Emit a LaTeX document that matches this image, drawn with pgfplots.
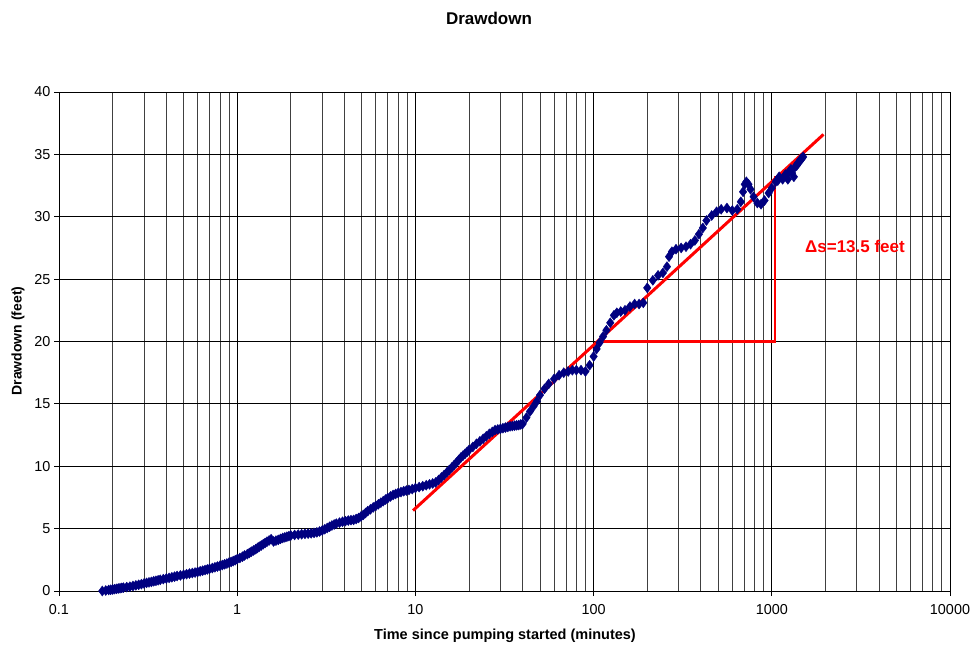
\documentclass[border=0pt]{standalone}
\usepackage{fontspec}
\setmainfont{Liberation Sans}
\usepackage{pgfplots}
\pgfplotsset{compat=1.18}
\definecolor{navyd}{RGB}{0,0,128}
\definecolor{redl}{RGB}{255,0,0}
\begin{document}
\begin{tikzpicture}
\useasboundingbox (0,0) rectangle (975pt,648pt);
\begin{axis}[
  at={(59pt,57pt)}, anchor=south west,
  scale only axis, width=891pt, height=499pt,
  xmode=log, xmin=0.1, xmax=10000, ymin=0, ymax=40,
  xtick={0.1,1,10,100,1000,10000},
  xticklabels={0.1,1,10,100,1000,10000},
  ytick={0,5,...,40},
  /pgf/number format/assume math mode=true,
  tick label style={font=\fontsize{14.4}{16}\selectfont},
  xticklabel style={yshift=-5pt},
  grid=both,
  major grid style={black, line width=0.8pt},
  minor grid style={black!75, line width=0.8pt},
  axis line style={black, line width=0.8pt},
  tick style={black, line width=0.8pt},
  tick align=outside, tick pos=left,
  major tick length=5pt, minor tick length=0pt,
  clip=false,
]
\addplot[only marks, mark=diamond*, mark size=5pt, color=navyd] coordinates {
(0.175,0.0) (0.183,0.04) (0.19,0.08) (0.195,0.1) (0.2,0.12) (0.205,0.15) (0.21,0.17) (0.215,0.2) (0.22,0.22) (0.225,0.25) (0.23,0.27) (0.24,0.31) (0.25,0.35)
(0.26,0.4) (0.27,0.45) (0.28,0.5) (0.29,0.55) (0.3,0.6) (0.31,0.65) (0.32,0.69) (0.33,0.73) (0.34,0.78) (0.35,0.82) (0.36,0.86) (0.37,0.9) (0.385,0.95) (0.4,1.0)
(0.415,1.05) (0.43,1.1) (0.445,1.15) (0.46,1.2) (0.48,1.25) (0.5,1.3) (0.52,1.35) (0.54,1.4) (0.56,1.44) (0.58,1.48) (0.6,1.53) (0.62,1.58) (0.64,1.63) (0.66,1.68)
(0.68,1.73) (0.7,1.78) (0.725,1.84) (0.75,1.9) (0.775,1.96) (0.8,2.02) (0.825,2.08) (0.85,2.14) (0.875,2.2) (0.9,2.27) (0.925,2.33) (0.95,2.4) (0.975,2.47) (1.0,2.55)
(1.035,2.65) (1.07,2.75) (1.1,2.85) (1.14,2.95) (1.17,3.05) (1.2,3.15) (1.235,3.25) (1.27,3.35) (1.3,3.45) (1.33,3.55) (1.365,3.65) (1.4,3.75) (1.435,3.85) (1.47,3.95)
(1.51,4.05) (1.55,4.15) (1.6,3.97) (1.65,4.04) (1.7,4.1) (1.75,4.18) (1.8,4.25) (1.85,4.3) (1.9,4.35) (1.95,4.4) (2.0,4.45) (2.1,4.49) (2.2,4.52) (2.3,4.55)
(2.4,4.58) (2.5,4.6) (2.6,4.62) (2.7,4.66) (2.8,4.7) (2.9,4.77) (3.0,4.85) (3.1,4.95) (3.2,5.05) (3.3,5.15) (3.4,5.25) (3.5,5.33) (3.6,5.4) (3.75,5.48)
(3.9,5.55) (4.05,5.6) (4.2,5.65) (4.35,5.68) (4.5,5.7) (4.65,5.77) (4.8,5.85) (4.95,5.97) (5.1,6.1) (5.25,6.25) (5.4,6.4) (5.6,6.55) (5.8,6.7) (6.0,6.83)
(6.2,6.95) (6.4,7.08) (6.6,7.2) (6.8,7.33) (7.0,7.45) (7.25,7.58) (7.5,7.7) (7.75,7.78) (8.0,7.85) (8.3,7.93) (8.6,8.0) (8.9,8.05) (9.2,8.1) (9.6,8.17)
(10,8.25) (10.5,8.33) (11,8.4) (11.5,8.48) (12,8.55) (12.5,8.62) (13,8.7) (13.5,8.9) (14,9.1) (14.5,9.3) (15,9.5) (15.5,9.7) (16,9.9) (16.5,10.1) (17,10.3)
(17.5,10.5) (18,10.7) (18.5,10.85) (19,11.0) (19.5,11.15) (20,11.3) (21,11.55) (22,11.8) (23,12.0) (24,12.2) (25,12.4) (26,12.6) (27,12.75) (28,12.9) (29,12.95) (30,13.0)
(31,13.05) (32,13.1) (33,13.15) (34,13.2) (35,13.22) (36,13.25) (37,13.28) (38,13.3) (39,13.35) (40,13.4) (42,13.9) (44,14.4) (46,14.8)
(48,15.2) (50,15.7) (53,16.2) (56,16.6) (60,17.0) (64,17.3) (68,17.5) (72,17.6)
(76,17.7) (80,17.7) (85,17.7) (90,17.6) (95,18.1) (100,18.8) (104,19.4) (108,19.9)
(113,20.4) (118,20.9) (124,21.5) (130,22.1) (135,22.3) (142,22.4) (150,22.5)
(160,22.8) (170,23.0) (180,23.0) (190,23.1) (200,24.3) (215,24.9) (230,25.3)
(245,25.5) (258,26.0) (265,26.8) (275,27.2) (290,27.4) (310,27.5) (330,27.6)
(350,27.8) (370,28.1) (390,28.6) (410,29.1) (430,29.7) (460,30.1) (490,30.4)
(520,30.6) (560,30.7) (600,30.5) (640,30.6) (670,31.2) (690,32.0) (705,32.6)
(720,32.8) (740,32.6) (760,32.2) (790,31.6) (830,31.1) (870,31.0) (910,31.3)
(960,31.9) (1000,32.3) (1050,32.8) (1100,33.2) (1150,33.0) (1200,33.4) (1250,33.6)
(1300,33.5) (1350,34.0) (1400,34.3) (1450,34.6) (1500,34.8)
(1080,32.9) (1180,33.3) (1230,33.0) (1280,33.8) (1330,33.2) (1380,34.1) (1430,34.4) (1480,34.7)
};
\addplot[redl, line width=3pt] coordinates {(9.7,6.45) (1950,36.6)};
\addplot[redl, line width=2.2pt] coordinates {(106,20) (1040,20) (1040,33.3)};
\node[redl, font=\fontsize{17}{19}\selectfont\bfseries] at (axis cs:2930,27.6) {Δs=13.5 feet};
\end{axis}
\node[font=\fontsize{17}{19}\selectfont\bfseries] at (489pt,630pt) {Drawdown};
\node[font=\fontsize{14.5}{16}\selectfont\bfseries] at (505pt,12pt) {Time since pumping started (minutes)};
\node[font=\fontsize{14}{16}\selectfont\bfseries, rotate=90] at (18pt,307pt) {Drawdown (feet)};
\end{tikzpicture}
\end{document}
